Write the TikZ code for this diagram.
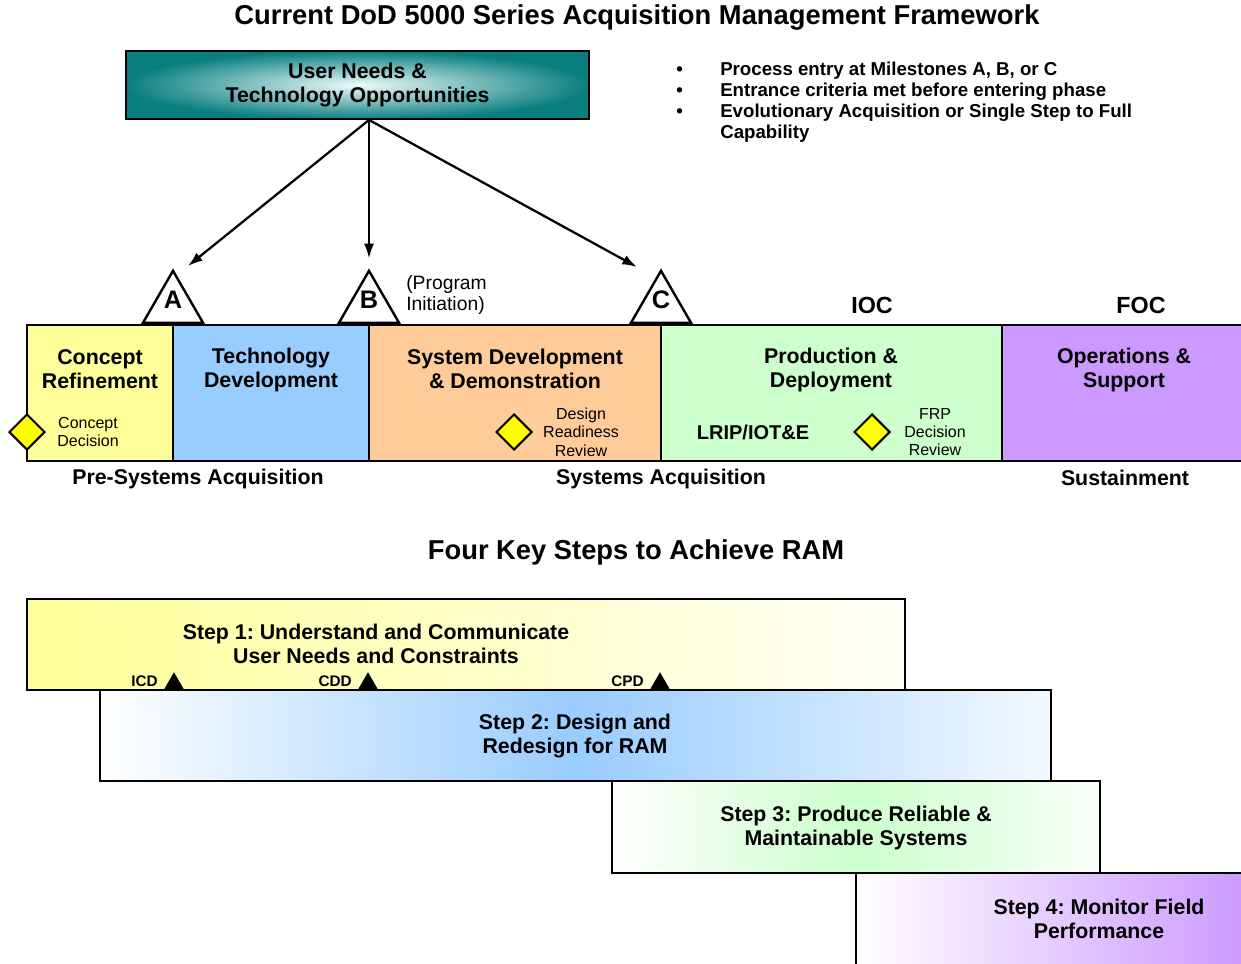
\documentclass[tikz,border=0pt]{standalone}
\usepackage{fontspec}
\setmainfont{Liberation Sans}
\usetikzlibrary{shapes.geometric,arrows.meta,calc,positioning}
\frenchspacing

\definecolor{crYellow}{HTML}{FFFF99}
\definecolor{tdBlue}{HTML}{99CCFF}
\definecolor{sddOrange}{HTML}{FFCC99}
\definecolor{pdGreen}{HTML}{CCFFCC}
\definecolor{osPurple}{HTML}{CC99FF}
\definecolor{unTeal}{HTML}{0A7F7F}
\definecolor{unGlow}{HTML}{EEFAFA}
\definecolor{decYellow}{HTML}{FFFF00}

\tikzset{
  phasebox/.style={draw=black, line width=1.4pt},
  stepbox/.style={draw=black, line width=1.2pt},
  bigtxt/.style={font=\fontsize{16}{18}\selectfont\bfseries, align=center, inner sep=0pt},
  titletxt/.style={font=\fontsize{20.5}{24}\selectfont\bfseries, inner sep=0pt},
  smalltxt/.style={font=\fontsize{12}{13.8}\selectfont, align=center, inner sep=0pt},
  doctxt/.style={font=\fontsize{11.5}{13}\selectfont\bfseries, inner sep=0pt},
  decision/.style={diamond, draw=black, line width=1.5pt, fill=decYellow,
    minimum width=27pt, minimum height=27pt, inner sep=0pt},
  milestone/.style={regular polygon, regular polygon sides=3, draw=black, line width=1.8pt,
    fill=white, inner sep=0pt, minimum size=52pt, anchor=south,
    label={[yshift=4pt, inner sep=0pt, font=\fontsize{19}{19}\selectfont\bfseries]center:#1}},
  docmark/.style={regular polygon, regular polygon sides=3, fill=black, inner sep=0pt,
    minimum size=17.5pt, anchor=south},
}

\begin{document}
\begin{tikzpicture}[x=0.75pt, y=-0.75pt, >={Latex[length=11pt,width=7.5pt]}]
\useasboundingbox (0,0) rectangle (1241,963);
\clip (0,0) rectangle (1241,963);

% framework
\node[titletxt] (title) at (637,17) {Current DoD 5000 Series Acquisition Management Framework};
\node[bigtxt, draw=black, line width=1.4pt, inner color=unGlow, outer color=unTeal,
  minimum width=347pt, minimum height=51pt] (un) at (357.5,85) {User Needs \&\\Technology Opportunities};

\node[font=\fontsize{14}{15.75}\selectfont\bfseries, inner sep=0pt, anchor=north west] (notes) at (676,61) {%
  \begin{tabular}{@{}p{33pt}@{}l@{}}
  \textbullet & Process entry at Milestones A, B, or C\\
  \textbullet & Entrance criteria met before entering phase\\
  \textbullet & Evolutionary Acquisition or Single Step to Full\\
              & Capability
  \end{tabular}};

\draw[phasebox, fill=crYellow] (27,325) rectangle (173,461);
\draw[phasebox, fill=tdBlue] (173,325) rectangle (369,461);
\draw[phasebox, fill=sddOrange] (369,325) rectangle (661,461);
\draw[phasebox, fill=pdGreen] (661,325) rectangle (1002,461);
\draw[phasebox, fill=osPurple] (1002,325) rectangle (1260,461);

\node[milestone=A] (mA) at (173,324) {};
\node[milestone=B] (mB) at (369,324) {};
\node[milestone=C] (mC) at (661,324) {};

\coordinate (hub) at (un.south -| mB.north);
\coordinate (tA) at (188,266);
\coordinate (tC) at (637,267);
\draw[->, line width=1.7pt] (hub) -- (tA);
\draw[->, line width=1.7pt, shorten >=7.5pt] (hub) -- (mB.north);
\draw[->, line width=1.7pt] (hub) -- (tC);

\node[font=\fontsize{14.5}{16}\selectfont, align=left, inner sep=0pt, anchor=west] (pinit) at (406,295) {(Program\\Initiation)};
\node[bigtxt, font=\fontsize{17.5}{20}\selectfont\bfseries] (ioc) at (872,305) {IOC};
\node[bigtxt, font=\fontsize{17.5}{20}\selectfont\bfseries] (foc) at (1141,305) {FOC};

\node[bigtxt] (cr) at (100,369) {Concept\\Refinement};
\node[bigtxt] (td) at (271,370) {Technology\\Development};
\node[bigtxt] (sdd) at (515,369) {System Development\\\& Demonstration};
\node[bigtxt] (pd) at (831,370) {Production \&\\Deployment};
\node[bigtxt] (os) at (1124,370) {Operations \&\\Support};

\node[decision] (cd) at (27,432) {};
\node[smalltxt] (cdtxt) at (88,432) {Concept\\Decision};
\node[decision] (drr) at (514,432) {};
\node[smalltxt] (drrtxt) at (581,432) {Design\\Readiness\\Review};
\node[bigtxt, font=\fontsize{15}{18}\selectfont\bfseries] (lrip) at (753,432) {LRIP/IOT\&E};
\node[decision] (frp) at (872,432) {};
\node[smalltxt] (frptxt) at (935,432) {FRP\\Decision\\Review};

\node[bigtxt] (presys) at (198,479) {Pre-Systems Acquisition};
\node[bigtxt] (sys) at (661,479) {Systems Acquisition};
\node[bigtxt] (sust) at (1125,478) {Sustainment};

% RAM steps
\node[titletxt] (ramtitle) at (636,552) {Four Key Steps to Achieve RAM};

\draw[stepbox, left color=crYellow, right color=crYellow!8] (27,599) rectangle (905,690);
\draw[stepbox, left color=white, right color=tdBlue!12, middle color=tdBlue] (100,690) rectangle (1051,781);
\draw[stepbox, left color=white, right color=pdGreen!12, middle color=pdGreen] (612,781) rectangle (1100,873);
\draw[stepbox, left color=white, right color=osPurple] (856,873) rectangle (1250,975);

\foreach \nm/\x/\lbl in {icd/174/ICD, cdd/368/CDD, cpd/660/CPD}{
  \node[docmark] (\nm) at (\x,690) {};
  \node[doctxt, anchor=base east] (\nm txt) at (\x-16,686) {\lbl};
}

\node[bigtxt] (s1) at (376,644) {Step 1: Understand and Communicate\\User Needs and Constraints};
\node[bigtxt] (s2) at (575,736) {Step 2: Design and\\Redesign for RAM};
\node[bigtxt] (s3) at (856,828) {Step 3: Produce Reliable \&\\Maintainable Systems};
\node[bigtxt] (s4) at (1099,919) {Step 4: Monitor Field\\Performance};

\end{tikzpicture}
\end{document}
